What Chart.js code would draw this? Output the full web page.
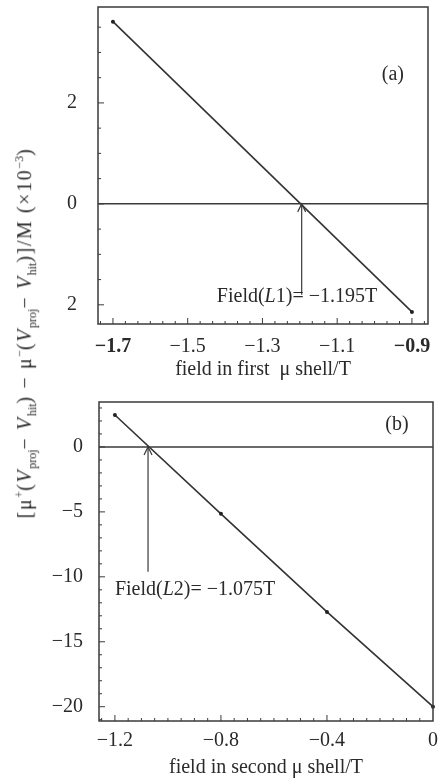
<!DOCTYPE html>
<html>
<head>
<meta charset="utf-8">
<script src="https://cdn.jsdelivr.net/npm/chart.js@4.4.1/dist/chart.umd.min.js"></script>
<style>
  body { margin: 0; background: #fff; width: 438px; height: 780px; position: relative; overflow: hidden; font-family: "Liberation Serif", "DejaVu Serif", serif; }
  canvas { position: absolute; left: 0; }
  #chartA { top: 0; }
  #chartB { top: 390px; }
  #ylabel {
    position: absolute; left: 26px; top: 333px;
    transform: translate(-50%, -50%) rotate(-90deg);
    white-space: nowrap; font-size: 20px; letter-spacing: 1.6px; color: #2a2a2a;
  }
  #ylabel sub, #ylabel sup { font-size: 12px; letter-spacing: 0; }
</style>
</head>
<body>
<canvas id="chartA" width="438" height="390"></canvas>
<canvas id="chartB" width="438" height="390"></canvas>
<div id="ylabel">[μ<sup>+</sup>(<i>V</i><sub>proj</sub>− <i>V</i><sub>hit</sub>) − μ<sup>−</sup>(<i>V</i><sub>proj</sub>− <i>V</i><sub>hit</sub>)]/M (×10<sup>−3</sup>)</div>

<script>
// Panel (a): first mu shell
const fieldA = [-1.7, -0.9];
const diffA = [3.61, -2.14];
const crossA = -1.195;
const xTicksA = [-1.7, -1.5, -1.3, -1.1, -0.9];
const xLabelsA = ['−1.7', '−1.5', '−1.3', '−1.1', '−0.9'];
const yTicksA = [-2, 0, 2];
const yLabelsA = ['2', '0', '2'];

// Panel (b): second mu shell
const fieldB = [-1.2, -0.8, -0.4, 0];
const diffB = [2.46, -5.15, -12.7, -20.0];
const crossB = -1.075;
const xTicksB = [-1.2, -0.8, -0.4, 0];
const xLabelsB = ['−1.2', '−0.8', '−0.4', '0'];
const yTicksB = [0, -5, -10, -15, -20];
const yLabelsB = ['0', '−5', '−10', '−15', '−20'];

const FONT = '"Liberation Serif", "DejaVu Serif", serif';
const INK = '#2a2a2a';
const SIZE = 20;

// generate major + minor tick list covering the whole axis
function tickBuilder(majors, step) {
    return function(scale) {
        const list = [];
        let v = majors[0];
        while (v - step >= scale.min - 1e-9) v -= step;
        for (; v <= scale.max + 1e-9; v += step) {
            list.push({ value: parseFloat(v.toFixed(5)) });
        }
        scale.ticks = list;
    };
}

function majorIndex(majors, v) {
    return majors.findIndex(m => Math.abs(m - v) < 1e-6);
}

// draws the frame, inward ticks, zero line, arrow and notes
function framePlugin(p) {
    return {
        id: 'frame',
        afterDraw(chart) {
            const c = chart.ctx;
            const a = chart.chartArea;
            const xs = chart.scales.x, ys = chart.scales.y;
            c.save();
            c.strokeStyle = '#3a3a3a';
            c.lineWidth = 1.5;
            c.strokeRect(a.left, a.top, a.right - a.left, a.bottom - a.top);

            c.lineWidth = 1;
            xs.ticks.forEach(t => {
                const px = xs.getPixelForValue(t.value);
                if (px < a.left + 1 || px > a.right - 1) return;
                const len = majorIndex(p.xMajors, t.value) >= 0 ? 6 : 3;
                c.beginPath(); c.moveTo(px, a.bottom); c.lineTo(px, a.bottom - len); c.stroke();
            });
            ys.ticks.forEach(t => {
                const py = ys.getPixelForValue(t.value);
                if (py < a.top + 1 || py > a.bottom - 1) return;
                const len = majorIndex(p.yMajors, t.value) >= 0 ? 6 : 3;
                c.beginPath(); c.moveTo(a.left, py); c.lineTo(a.left + len, py); c.stroke();
            });

            // zero reference line
            const y0 = ys.getPixelForValue(0);
            c.lineWidth = 1.5;
            c.beginPath(); c.moveTo(a.left, y0); c.lineTo(a.right, y0); c.stroke();

            // arrow pointing at the crossing
            const ax = xs.getPixelForValue(p.cross);
            const ab = ys.getPixelForValue(p.arrowFrom);
            c.lineWidth = 1.2;
            c.beginPath(); c.moveTo(ax, ab); c.lineTo(ax, y0); c.stroke();
            c.beginPath();
            c.moveTo(ax - 4, y0 + 8); c.lineTo(ax, y0); c.lineTo(ax + 4, y0 + 8);
            c.stroke();

            // annotation text with italic L
            c.fillStyle = INK;
            c.textBaseline = 'middle';
            let tx = xs.getPixelForValue(p.noteX);
            const ty = ys.getPixelForValue(p.noteY);
            p.note.forEach(part => {
                c.font = (part.italic ? 'italic ' : '') + SIZE + 'px ' + FONT;
                c.fillText(part.text, tx, ty);
                tx += c.measureText(part.text).width;
            });

            c.font = SIZE + 'px ' + FONT;
            c.textAlign = 'center';
            c.fillText(p.tag, xs.getPixelForValue(p.tagX), ys.getPixelForValue(p.tagY));
            c.restore();
        }
    };
}

function makePanel(id, cfg) {
    const ctx = document.getElementById(id).getContext('2d');
    return new Chart(ctx, {
        type: 'scatter',
        data: {
            datasets: [{
                data: cfg.xs.map((x, i) => ({ x: x, y: cfg.ys[i] })),
                showLine: true,
                borderColor: '#333',
                borderWidth: 1.6,
                pointRadius: 2,
                pointBackgroundColor: '#222',
                pointBorderWidth: 0,
                clip: false
            }]
        },
        options: {
            responsive: false,
            animation: false,
            layout: { padding: cfg.padding },
            plugins: { legend: { display: false }, tooltip: { enabled: false } },
            scales: {
                x: {
                    type: 'linear',
                    min: cfg.xMin, max: cfg.xMax,
                    afterBuildTicks: tickBuilder(cfg.xMajors, cfg.xStep),
                    afterFit: s => { s.height = cfg.xHeight; s.paddingLeft = 0; s.paddingRight = 0; },
                    grid: { display: false },
                    border: { display: false },
                    ticks: {
                        autoSkip: false,
                        maxRotation: 0,
                        padding: cfg.xPad,
                        color: INK,
                        callback: v => { const k = majorIndex(cfg.xMajors, v); return k >= 0 ? cfg.xLabels[k] : ''; },
                        font: t => ({ family: FONT, size: SIZE, weight: (cfg.boldX || []).includes(t.tick && t.tick.value) ? 'bold' : 'normal' })
                    },
                    title: {
                        display: true, text: cfg.xTitle, color: INK,
                        font: { family: FONT, size: SIZE },
                        padding: { top: 0, bottom: cfg.titlePad }
                    }
                },
                y: {
                    type: 'linear',
                    min: cfg.yMin, max: cfg.yMax,
                    afterBuildTicks: tickBuilder(cfg.yMajors, cfg.yStep),
                    afterFit: s => { s.width = cfg.yWidth; s.paddingTop = 0; s.paddingBottom = 0; },
                    grid: { display: false },
                    border: { display: false },
                    ticks: {
                        autoSkip: false,
                        padding: cfg.yPad,
                        color: INK,
                        font: { family: FONT, size: SIZE },
                        callback: v => { const k = majorIndex(cfg.yMajors, v); return k >= 0 ? cfg.yLabels[k] : ''; }
                    }
                }
            }
        },
        plugins: [framePlugin(cfg)]
    });
}

makePanel('chartA', {
    xs: fieldA, ys: diffA,
    xMin: -1.74, xMax: -0.857, yMin: -2.38, yMax: 3.9,
    xMajors: xTicksA, xLabels: xLabelsA, xStep: 0.2 / 6, boldX: [-1.7, -0.9],
    yMajors: yTicksA, yLabels: yLabelsA, yStep: 0.5,
    padding: { top: 7, right: 10, left: 0, bottom: 0 },
    xHeight: 66, yWidth: 98, xPad: 3, yPad: 13, titlePad: 8,
    xTitle: 'field in first  μ shell/T',
    cross: crossA, arrowFrom: -1.8,
    noteX: -1.422, noteY: -1.84,
    note: [{ text: 'Field(' }, { text: 'L', italic: true }, { text: '1)= −1.195T' }],
    tag: '(a)', tagX: -0.951, tagY: 2.55
});

makePanel('chartB', {
    xs: fieldB, ys: diffB,
    xMin: -1.26, xMax: 0, yMin: -21.1, yMax: 3.46,
    xMajors: xTicksB, xLabels: xLabelsB, xStep: 0.05,
    yMajors: yTicksB, yLabels: yLabelsB, yStep: 1,
    padding: { top: 12, right: 5, left: 0, bottom: 0 },
    xHeight: 59, yWidth: 99, xPad: 0, yPad: 8, titlePad: 0,
    xTitle: 'field in second μ shell/T',
    cross: crossB, arrowFrom: -9.6,
    noteX: -1.2, noteY: -11.0,
    note: [{ text: 'Field(' }, { text: 'L', italic: true }, { text: '2)= −1.075T' }],
    tag: '(b)', tagX: -0.136, tagY: 1.7
});
</script>
</body>
</html>
